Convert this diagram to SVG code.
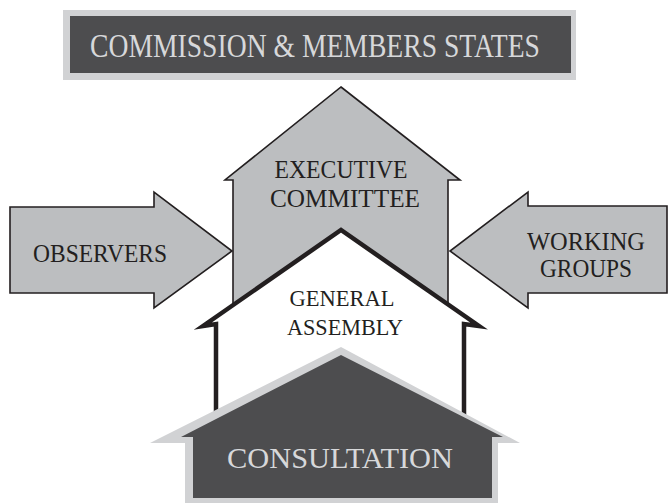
<svg xmlns="http://www.w3.org/2000/svg" width="668" height="503" viewBox="0 0 668 503">
<style>
.t{font-family:"Liberation Serif","Times New Roman",serif;text-anchor:middle}
.dk{fill:#231f20}
.lt{fill:#d7d8da}
.arrow{fill:#bcbec0;stroke:#231f20;stroke-width:1.6;stroke-linejoin:miter}
</style>
<rect width="668" height="503" fill="#ffffff"/>
<g id="commission">
<rect x="63" y="10" width="513" height="70" fill="#d1d2d4"/>
<rect x="70" y="16" width="501" height="57" fill="#4d4d4f"/>
<text class="t lt" x="315" y="57" font-size="33" textLength="450" lengthAdjust="spacingAndGlyphs">COMMISSION &amp; MEMBERS STATES</text>
</g>
<g id="observers">
<polygon class="arrow" points="10,207 154,207 154,192 232,251 154,308 154,293 10,293"/>
<text class="t dk" x="100" y="262" font-size="25" textLength="134" lengthAdjust="spacingAndGlyphs">OBSERVERS</text>
</g>
<g id="working-groups">
<polygon class="arrow" points="667,206 528,206 528,192 450,251 528,308 528,293 667,293"/>
<text class="t dk" x="586" y="250" font-size="25" textLength="118" lengthAdjust="spacingAndGlyphs">WORKING</text>
<text class="t dk" x="586" y="277" font-size="25" textLength="92" lengthAdjust="spacingAndGlyphs">GROUPS</text>
</g>
<g id="executive-committee">
<polygon class="arrow" points="341,87 460,180 448,180 448,335 233,335 233,180 225,180"/>
<text class="t dk" x="341" y="178" font-size="25" textLength="133" lengthAdjust="spacingAndGlyphs">EXECUTIVE</text>
<text class="t dk" x="345" y="207" font-size="25" textLength="150" lengthAdjust="spacingAndGlyphs">COMMITTEE</text>
</g>
<g id="general-assembly">
<polygon points="216,420 216,325 203,326 341,230 479,326 464,325 464,420" fill="#ffffff"/>
<path d="M216,420 L216,324 L203,326 L341,230 L479,326 L464,324 L464,420" fill="none" stroke="#231f20" stroke-width="4.5" stroke-linejoin="miter" stroke-miterlimit="10"/>
<text class="t dk" x="342" y="306" font-size="24" textLength="105" lengthAdjust="spacingAndGlyphs">GENERAL</text>
<text class="t dk" x="345" y="335" font-size="24" textLength="116" lengthAdjust="spacingAndGlyphs">ASSEMBLY</text>
</g>
<g id="consultation">
<polygon points="341,347 520,443 498,443 498,503 185,503 185,443 150,443" fill="#d1d2d4"/>
<polygon points="341,355 503,437 492,437 492,498 193,498 193,437 181,437" fill="#4d4d4f"/>
<text class="t lt" x="340" y="468" font-size="30" textLength="226" lengthAdjust="spacingAndGlyphs">CONSULTATION</text>
</g>
<g id="connectors"/>
</svg>
